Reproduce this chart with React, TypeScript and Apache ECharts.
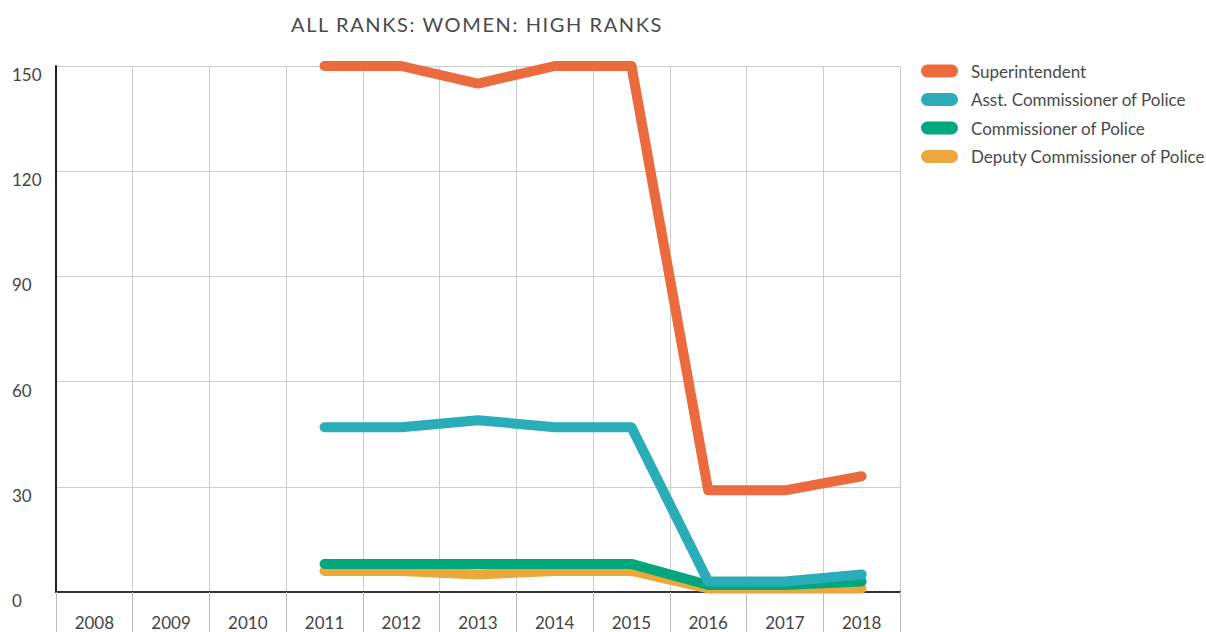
import React, { useEffect, useRef } from "react";
import * as echarts from "echarts";

const years = ["2008", "2009", "2010", "2011", "2012", "2013", "2014", "2015", "2016", "2017", "2018"];
const superintendent = [null, null, null, 150, 150, 145, 150, 150, 29, 29, 33];
const asstCommissioner = [null, null, null, 47, 47, 49, 47, 47, 3, 3, 5];
const commissioner = [null, null, null, 8, 8, 8, 8, 8, 2, 2, 3];
const deputyCommissioner = [null, null, null, 6, 6, 5, 6, 6, 1, 1, 1];
const seriesNames = ["Superintendent", "Asst. Commissioner of Police", "Commissioner of Police", "Deputy Commissioner of Police"];
const colors = ["#EB6A3E", "#2AADB9", "#00A77C", "#ECA83A"];
const titleText = "ALL RANKS: WOMEN: HIGH RANKS";

export default function App() {
  const ref = useRef<HTMLDivElement>(null);
  useEffect(() => {
    if (!ref.current) return;
    const chart = echarts.init(ref.current, null, { renderer: "svg" });
    const data = [superintendent, asstCommissioner, commissioner, deputyCommissioner];
    const font = "Lato, 'Open Sans', sans-serif";
    const pill = "path://M6.5,0 L30.5,0 A6.5,6.5 0 0 1 30.5,13 L6.5,13 A6.5,6.5 0 0 1 6.5,0 Z";
    chart.setOption({
      animation: false,
      title: {
        text: titleText,
        left: 286,
        top: 9,
        textStyle: { fontFamily: font, fontSize: 20, fontWeight: 400, color: "#4a4a4a" },
      },
      legend: {
        orient: "vertical",
        left: 916,
        top: 57.5,
        itemWidth: 37,
        itemHeight: 13,
        itemGap: 11.5,
        icon: pill,
        data: seriesNames,
        textStyle: { fontFamily: font, fontSize: 17, color: "#4a4a4a", padding: [0, 0, 0, 8] },
      },
      grid: { left: 56, right: 306, top: 66, bottom: 40 },
      xAxis: {
        type: "category",
        data: years,
        boundaryGap: true,
        axisLine: { lineStyle: { color: "#333", width: 2 } },
        axisTick: { show: true, length: 40, interval: 0, lineStyle: { color: "#bbb" } },
        splitLine: { show: true, interval: 0, lineStyle: { color: "#ccc" } },
        axisLabel: { margin: 22, fontFamily: font, fontSize: 17, color: "#444", interval: 0 },
      },
      yAxis: {
        type: "value",
        min: 0,
        max: 150,
        interval: 30,
        axisLine: { show: true, lineStyle: { color: "#222", width: 2 } },
        axisTick: { show: false },
        splitLine: { lineStyle: { color: "#ccc" } },
        axisLabel: { margin: 44, align: "left", verticalAlign: "top", fontFamily: font, fontSize: 17, color: "#444" },
      },
      series: data.map((d, i) => ({
        name: seriesNames[i],
        type: "line",
        data: d,
        symbol: "none",
        z: 10 - i,
        itemStyle: { color: colors[i] },
        lineStyle: { color: colors[i], width: 10, cap: "round", join: "round" },
      })),
    });
    const texts = ref.current.querySelectorAll("text");
    texts.forEach((t) => {
      if (t.textContent === titleText) {
        t.setAttribute("letter-spacing", "1.6");
      }
    });
    return () => chart.dispose();
  }, []);
  return <div ref={ref} style={{ width: 1206, height: 632, position: "absolute", left: 0, top: 0 }} />;
}
